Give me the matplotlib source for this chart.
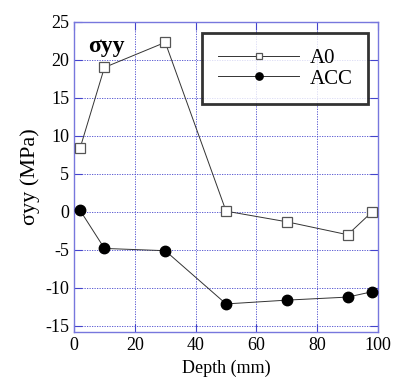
import matplotlib
matplotlib.use('Agg')
import matplotlib.pyplot as plt

depth = [2, 10, 30, 50, 70, 90, 98]
a0 = [8.4, 19.0, 22.3, 0.1, -1.3, -3.0, 0.0]
acc = [0.2, -4.8, -5.1, -12.1, -11.6, -11.2, -10.5]

xticks = [0, 20, 40, 60, 80, 100]
yticks = [-15, -10, -5, 0, 5, 10, 15, 20, 25]

plt.rcParams['font.family'] = ['Liberation Serif', 'DejaVu Serif']
plt.rcParams['axes.unicode_minus'] = False

fig = plt.figure(figsize=(3.98, 3.83), dpi=100)
ax = fig.add_axes([0.186, 0.133, 0.764, 0.81])

blue = '#4444cc'
ax.plot(depth, a0, color='#333333', lw=0.7, marker='s', ms=7, mfc='white',
        mec='#555555', mew=0.9, label='A0', zorder=3)
ax.plot(depth, acc, color='#333333', lw=0.7, marker='o', ms=7.5, mfc='black',
        mec='black', label='ACC', zorder=3)

ax.set_xlim(0, 100)
ax.set_ylim(-15.8, 25)
ax.set_xticks(xticks)
ax.set_yticks(yticks)
ax.grid(True, color=blue, ls=(0, (1.5, 1.5)), lw=0.6)
ax.tick_params(direction='in', length=6, color=blue, top=True, right=True,
               labelsize=13)
for s in ax.spines.values():
    s.set_color('#7777dd')
    s.set_linewidth(1.0)

ax.set_xlabel('Depth (mm)', fontsize=13)
ax.set_ylabel('σyy (MPa)', fontsize=16)
ax.text(0.045, 0.955, 'σyy', transform=ax.transAxes, fontsize=17,
        fontweight='bold', va='top', ha='left')

leg = ax.legend(loc='upper right', bbox_to_anchor=(0.967, 0.965), fontsize=15,
                frameon=True, fancybox=False, borderpad=0.75, handlelength=3.9,
                handletextpad=0.5, markerscale=0.7,
                labelspacing=0.05, borderaxespad=0)
leg.get_frame().set_edgecolor('black')
leg.get_frame().set_linewidth(2.0)

fig.savefig('out.png', dpi=100)
